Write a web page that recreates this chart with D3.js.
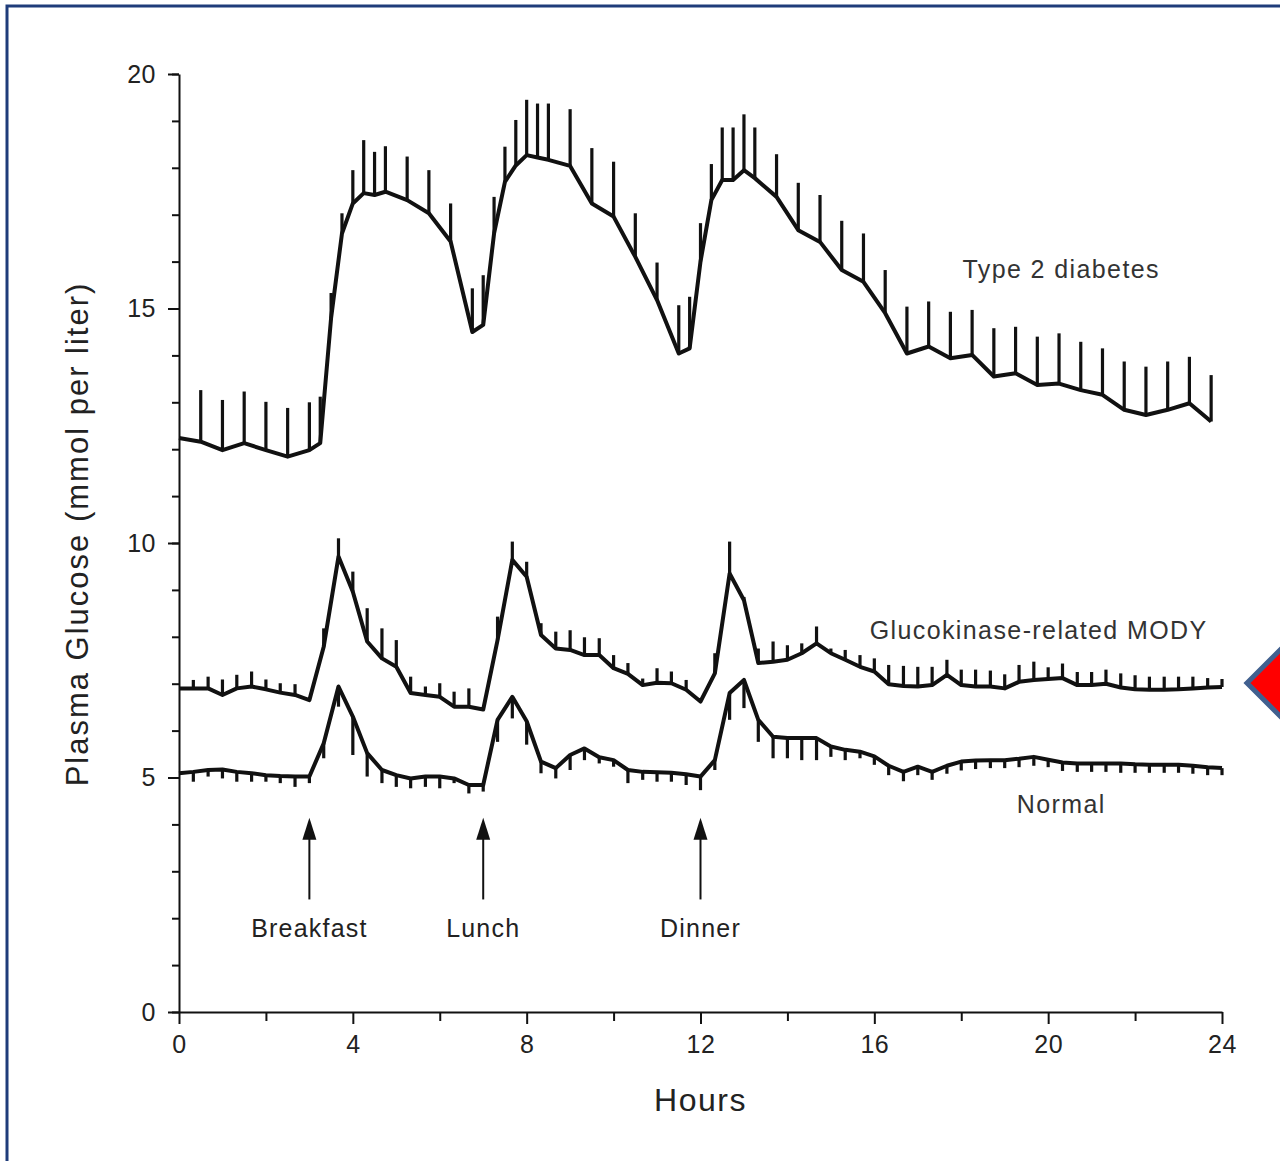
<!DOCTYPE html>
<html>
<head>
<meta charset="utf-8">
<script src="https://cdn.jsdelivr.net/npm/d3@7"></script>
<style>
  body { margin: 0; background: #fff; }
  svg { display: block; font-family: "Liberation Sans", Arial, sans-serif; }
  .axis path, .axis line { stroke: #111; stroke-width: 2px; }
  .axis text { fill: #222; font-size: 25px; letter-spacing: 0.5px; }
</style>
</head>
<body>
<svg id="chart" width="1280" height="1161"></svg>
<script>
// Type 2 diabetes: hours, mean, top of error bar
var t2Hours = [0, 0.5, 1, 1.5, 2, 2.5, 3, 3.25, 3.5, 3.75, 4, 4.25, 4.5, 4.75, 5.25, 5.75, 6.25, 6.75, 7, 7.25, 7.5, 7.75, 8, 8.25, 8.5, 9, 9.5, 10, 10.5, 11, 11.5, 11.75, 12, 12.25, 12.5, 12.75, 13, 13.25, 13.75, 14.25, 14.75, 15.25, 15.75, 16.25, 16.75, 17.25, 17.75, 18.25, 18.75, 19.25, 19.75, 20.25, 20.75, 21.25, 21.75, 22.25, 22.75, 23.25, 23.75];
var t2Mean = [12.24, 12.16, 11.98, 12.13, 11.98, 11.84, 11.98, 12.13, 14.8, 16.6, 17.24, 17.46, 17.42, 17.49, 17.31, 17.03, 16.43, 14.5, 14.65, 16.6, 17.7, 18.05, 18.27, 18.22, 18.17, 18.04, 17.24, 16.96, 16.1, 15.18, 14.04, 14.15, 16.0, 17.31, 17.74, 17.74, 17.95, 17.78, 17.38, 16.67, 16.42, 15.82, 15.57, 14.9, 14.04, 14.19, 13.94, 14.01, 13.55, 13.62, 13.37, 13.4, 13.26, 13.16, 12.84, 12.73, 12.84, 12.98, 12.59];
var t2Top = [12.24, 13.26, 13.05, 13.23, 13.01, 12.88, 13.0, 13.12, 15.33, 17.03, 17.95, 18.59, 18.34, 18.46, 18.24, 17.95, 17.24, 15.43, 15.71, 17.38, 18.45, 19.02, 19.45, 19.37, 19.37, 19.25, 18.42, 18.13, 17.03, 15.98, 15.07, 15.25, 16.82, 18.08, 18.86, 18.86, 19.14, 18.86, 18.29, 17.68, 17.42, 16.87, 16.6, 15.82, 15.04, 15.15, 14.93, 14.97, 14.58, 14.61, 14.4, 14.47, 14.29, 14.15, 13.87, 13.76, 13.87, 13.97, 13.58];

// Glucokinase-related MODY and Normal share 20-minute sampling
var hours = [0, 0.33, 0.67, 1, 1.33, 1.67, 2, 2.33, 2.67, 3, 3.33, 3.67, 4, 4.33, 4.67, 5, 5.33, 5.67, 6, 6.33, 6.67, 7, 7.33, 7.67, 8, 8.33, 8.67, 9, 9.33, 9.67, 10, 10.33, 10.67, 11, 11.33, 11.67, 12, 12.33, 12.67, 13, 13.33, 13.67, 14, 14.33, 14.67, 15, 15.33, 15.67, 16, 16.33, 16.67, 17, 17.33, 17.67, 18, 18.33, 18.67, 19, 19.33, 19.67, 20, 20.33, 20.67, 21, 21.33, 21.67, 22, 22.33, 22.67, 23, 23.33, 23.67, 24];
var modyMean = [6.9, 6.9, 6.9, 6.76, 6.9, 6.94, 6.88, 6.81, 6.76, 6.65, 7.79, 9.71, 8.96, 7.9, 7.54, 7.36, 6.8, 6.76, 6.72, 6.51, 6.51, 6.45, 7.93, 9.64, 9.28, 8.04, 7.75, 7.72, 7.61, 7.61, 7.33, 7.21, 6.97, 7.02, 7.01, 6.87, 6.62, 7.22, 9.35, 8.78, 7.44, 7.47, 7.51, 7.65, 7.86, 7.65, 7.51, 7.36, 7.26, 6.99, 6.95, 6.94, 6.97, 7.19, 6.97, 6.94, 6.94, 6.9, 7.04, 7.08, 7.1, 7.12, 6.97, 6.97, 7.0, 6.92, 6.88, 6.87, 6.87, 6.88, 6.9, 6.92, 6.93];
var modyTop = [6.9, 7.08, 7.15, 7.09, 7.19, 7.26, 7.09, 7.01, 6.99, 6.65, 8.18, 10.1, 9.39, 8.61, 8.18, 7.93, 7.15, 6.94, 7.01, 6.83, 6.9, 6.45, 8.43, 10.03, 9.6, 8.29, 8.11, 8.14, 7.99, 7.97, 7.61, 7.44, 7.11, 7.33, 7.26, 7.08, 6.62, 7.65, 10.03, 8.85, 7.75, 7.9, 7.82, 7.86, 8.22, 7.75, 7.72, 7.61, 7.54, 7.4, 7.38, 7.36, 7.36, 7.51, 7.3, 7.3, 7.28, 7.2, 7.4, 7.47, 7.35, 7.43, 7.25, 7.25, 7.3, 7.22, 7.18, 7.15, 7.15, 7.15, 7.15, 7.12, 7.1];
var normalMean = [5.09, 5.12, 5.16, 5.17, 5.12, 5.09, 5.05, 5.03, 5.02, 5.02, 5.73, 6.94, 6.3, 5.52, 5.16, 5.05, 4.98, 5.02, 5.02, 4.98, 4.84, 4.84, 6.23, 6.72, 6.2, 5.34, 5.2, 5.48, 5.62, 5.43, 5.37, 5.16, 5.12, 5.11, 5.1, 5.07, 5.02, 5.37, 6.8, 7.08, 6.23, 5.87, 5.84, 5.84, 5.84, 5.66, 5.59, 5.55, 5.45, 5.25, 5.12, 5.23, 5.12, 5.25, 5.34, 5.36, 5.37, 5.37, 5.4, 5.44, 5.38, 5.32, 5.3, 5.3, 5.3, 5.3, 5.28, 5.27, 5.27, 5.27, 5.25, 5.22, 5.2];
var normalLow = [5.09, 4.91, 5.02, 4.98, 4.91, 4.91, 4.91, 4.88, 4.8, 4.88, 5.41, 6.51, 5.48, 5.02, 4.88, 4.8, 4.77, 4.8, 4.77, 4.88, 4.66, 4.7, 5.76, 6.26, 5.7, 5.09, 4.98, 5.16, 5.37, 5.3, 5.23, 4.88, 4.95, 4.91, 4.91, 4.84, 4.73, 5.16, 6.23, 6.48, 5.76, 5.41, 5.41, 5.37, 5.37, 5.44, 5.37, 5.41, 5.27, 5.05, 4.92, 5.05, 4.95, 5.08, 5.15, 5.18, 5.2, 5.2, 5.22, 5.25, 5.22, 5.14, 5.12, 5.12, 5.12, 5.1, 5.1, 5.1, 5.1, 5.1, 5.08, 5.05, 5.05];

var meals = ["Breakfast", "Lunch", "Dinner"];
var mealHours = [3, 7, 12];

var xMajor = [0, 4, 8, 12, 16, 20, 24];
var xMinor = [2, 6, 10, 14, 18, 22];
var yMajor = [0, 5, 10, 15, 20];

var svg = d3.select("#chart");

var x = d3.scaleLinear().domain([0, 24]).range([179, 1222]);
var y = d3.scaleLinear().domain([0, 20]).range([1012, 74]);

// frame and pointer
svg.append("rect")
  .attr("x", 7).attr("y", 6)
  .attr("width", 1300).attr("height", 1200)
  .attr("fill", "none")
  .attr("stroke", "#1f3c7a")
  .attr("stroke-width", 3);

svg.append("polygon")
  .attr("points", "1247,683 1287,643 1327,683 1287,723")
  .attr("fill", "#ff0000")
  .attr("stroke", "#41608f")
  .attr("stroke-width", 5);

// axes
svg.append("g").attr("class", "axis")
  .attr("transform", "translate(0," + y(0) + ")")
  .call(d3.axisBottom(x).tickValues(xMinor).tickSize(9).tickFormat(""))
  .select(".domain").remove();
svg.append("g").attr("class", "axis")
  .attr("transform", "translate(0," + y(0) + ")")
  .call(d3.axisBottom(x).tickValues(xMajor).tickSize(12).tickSizeOuter(0).tickPadding(11));

svg.append("g").attr("class", "axis")
  .attr("transform", "translate(" + x(0) + ",0)")
  .call(d3.axisLeft(y).tickValues(d3.range(0, 21)).tickSize(7).tickFormat(""))
  .select(".domain").remove();
svg.append("g").attr("class", "axis")
  .attr("transform", "translate(" + x(0) + ",0)")
  .call(d3.axisLeft(y).tickValues(yMajor).tickSize(11).tickSizeOuter(0).tickPadding(12));

svg.append("text")
  .attr("x", (x(0) + x(24)) / 2).attr("y", 1111)
  .attr("text-anchor", "middle")
  .attr("font-size", 32).attr("letter-spacing", 1.5).attr("fill", "#222")
  .text("Hours");

svg.append("text")
  .attr("transform", "translate(88," + (y(10) - 9) + ") rotate(-90)")
  .attr("text-anchor", "middle")
  .attr("font-size", 31).attr("letter-spacing", 2).attr("fill", "#222")
  .text("Plasma Glucose (mmol per liter)");

// series
var line = d3.line()
  .x(function(d) { return x(d[0]); })
  .y(function(d) { return y(d[1]); });

function drawSeries(hrs, mean, bound) {
  var g = svg.append("g");
  g.selectAll("line").data(hrs).enter().append("line")
    .attr("x1", function(d) { return x(d); })
    .attr("x2", function(d) { return x(d); })
    .attr("y1", function(d, i) { return y(mean[i]); })
    .attr("y2", function(d, i) { return y(bound[i]); })
    .attr("stroke", "#111")
    .attr("stroke-width", 3.2);
  g.append("path")
    .datum(hrs.map(function(d, i) { return [d, mean[i]]; }))
    .attr("d", line)
    .attr("fill", "none")
    .attr("stroke", "#111")
    .attr("stroke-width", 4)
    .attr("stroke-linejoin", "round");
}

drawSeries(t2Hours, t2Mean, t2Top);
drawSeries(hours, modyMean, modyTop);
drawSeries(hours, normalMean, normalLow);

// series labels
var labels = [
  {text: "Type 2 diabetes", h: 20.3, v: 15.65},
  {text: "Glucokinase-related MODY", h: 19.78, v: 7.95},
  {text: "Normal", h: 20.3, v: 4.25}
];
svg.selectAll(".lbl").data(labels).enter().append("text")
  .attr("class", "lbl")
  .attr("x", function(d) { return x(d.h); })
  .attr("y", function(d) { return y(d.v); })
  .attr("text-anchor", "middle")
  .attr("font-size", 25)
  .attr("letter-spacing", 1.4)
  .attr("fill", "#333")
  .text(function(d) { return d.text; });

// meal arrows
var mg = svg.selectAll(".meal").data(meals).enter().append("g").attr("class", "meal");
mg.append("line")
  .attr("x1", function(d, i) { return x(mealHours[i]); })
  .attr("x2", function(d, i) { return x(mealHours[i]); })
  .attr("y1", y(2.4)).attr("y2", y(3.8))
  .attr("stroke", "#111").attr("stroke-width", 2);
mg.append("path")
  .attr("d", function(d, i) {
    var cx = x(mealHours[i]), ty = y(4.14);
    return "M" + cx + "," + ty + "L" + (cx - 7) + "," + (ty + 22) + "L" + (cx + 7) + "," + (ty + 22) + "Z";
  })
  .attr("fill", "#111");
mg.append("text")
  .attr("x", function(d, i) { return x(mealHours[i]); })
  .attr("y", y(1.6))
  .attr("text-anchor", "middle")
  .attr("font-size", 25)
  .attr("letter-spacing", 1.2)
  .attr("fill", "#222")
  .text(function(d) { return d; });
</script>
</body>
</html>
